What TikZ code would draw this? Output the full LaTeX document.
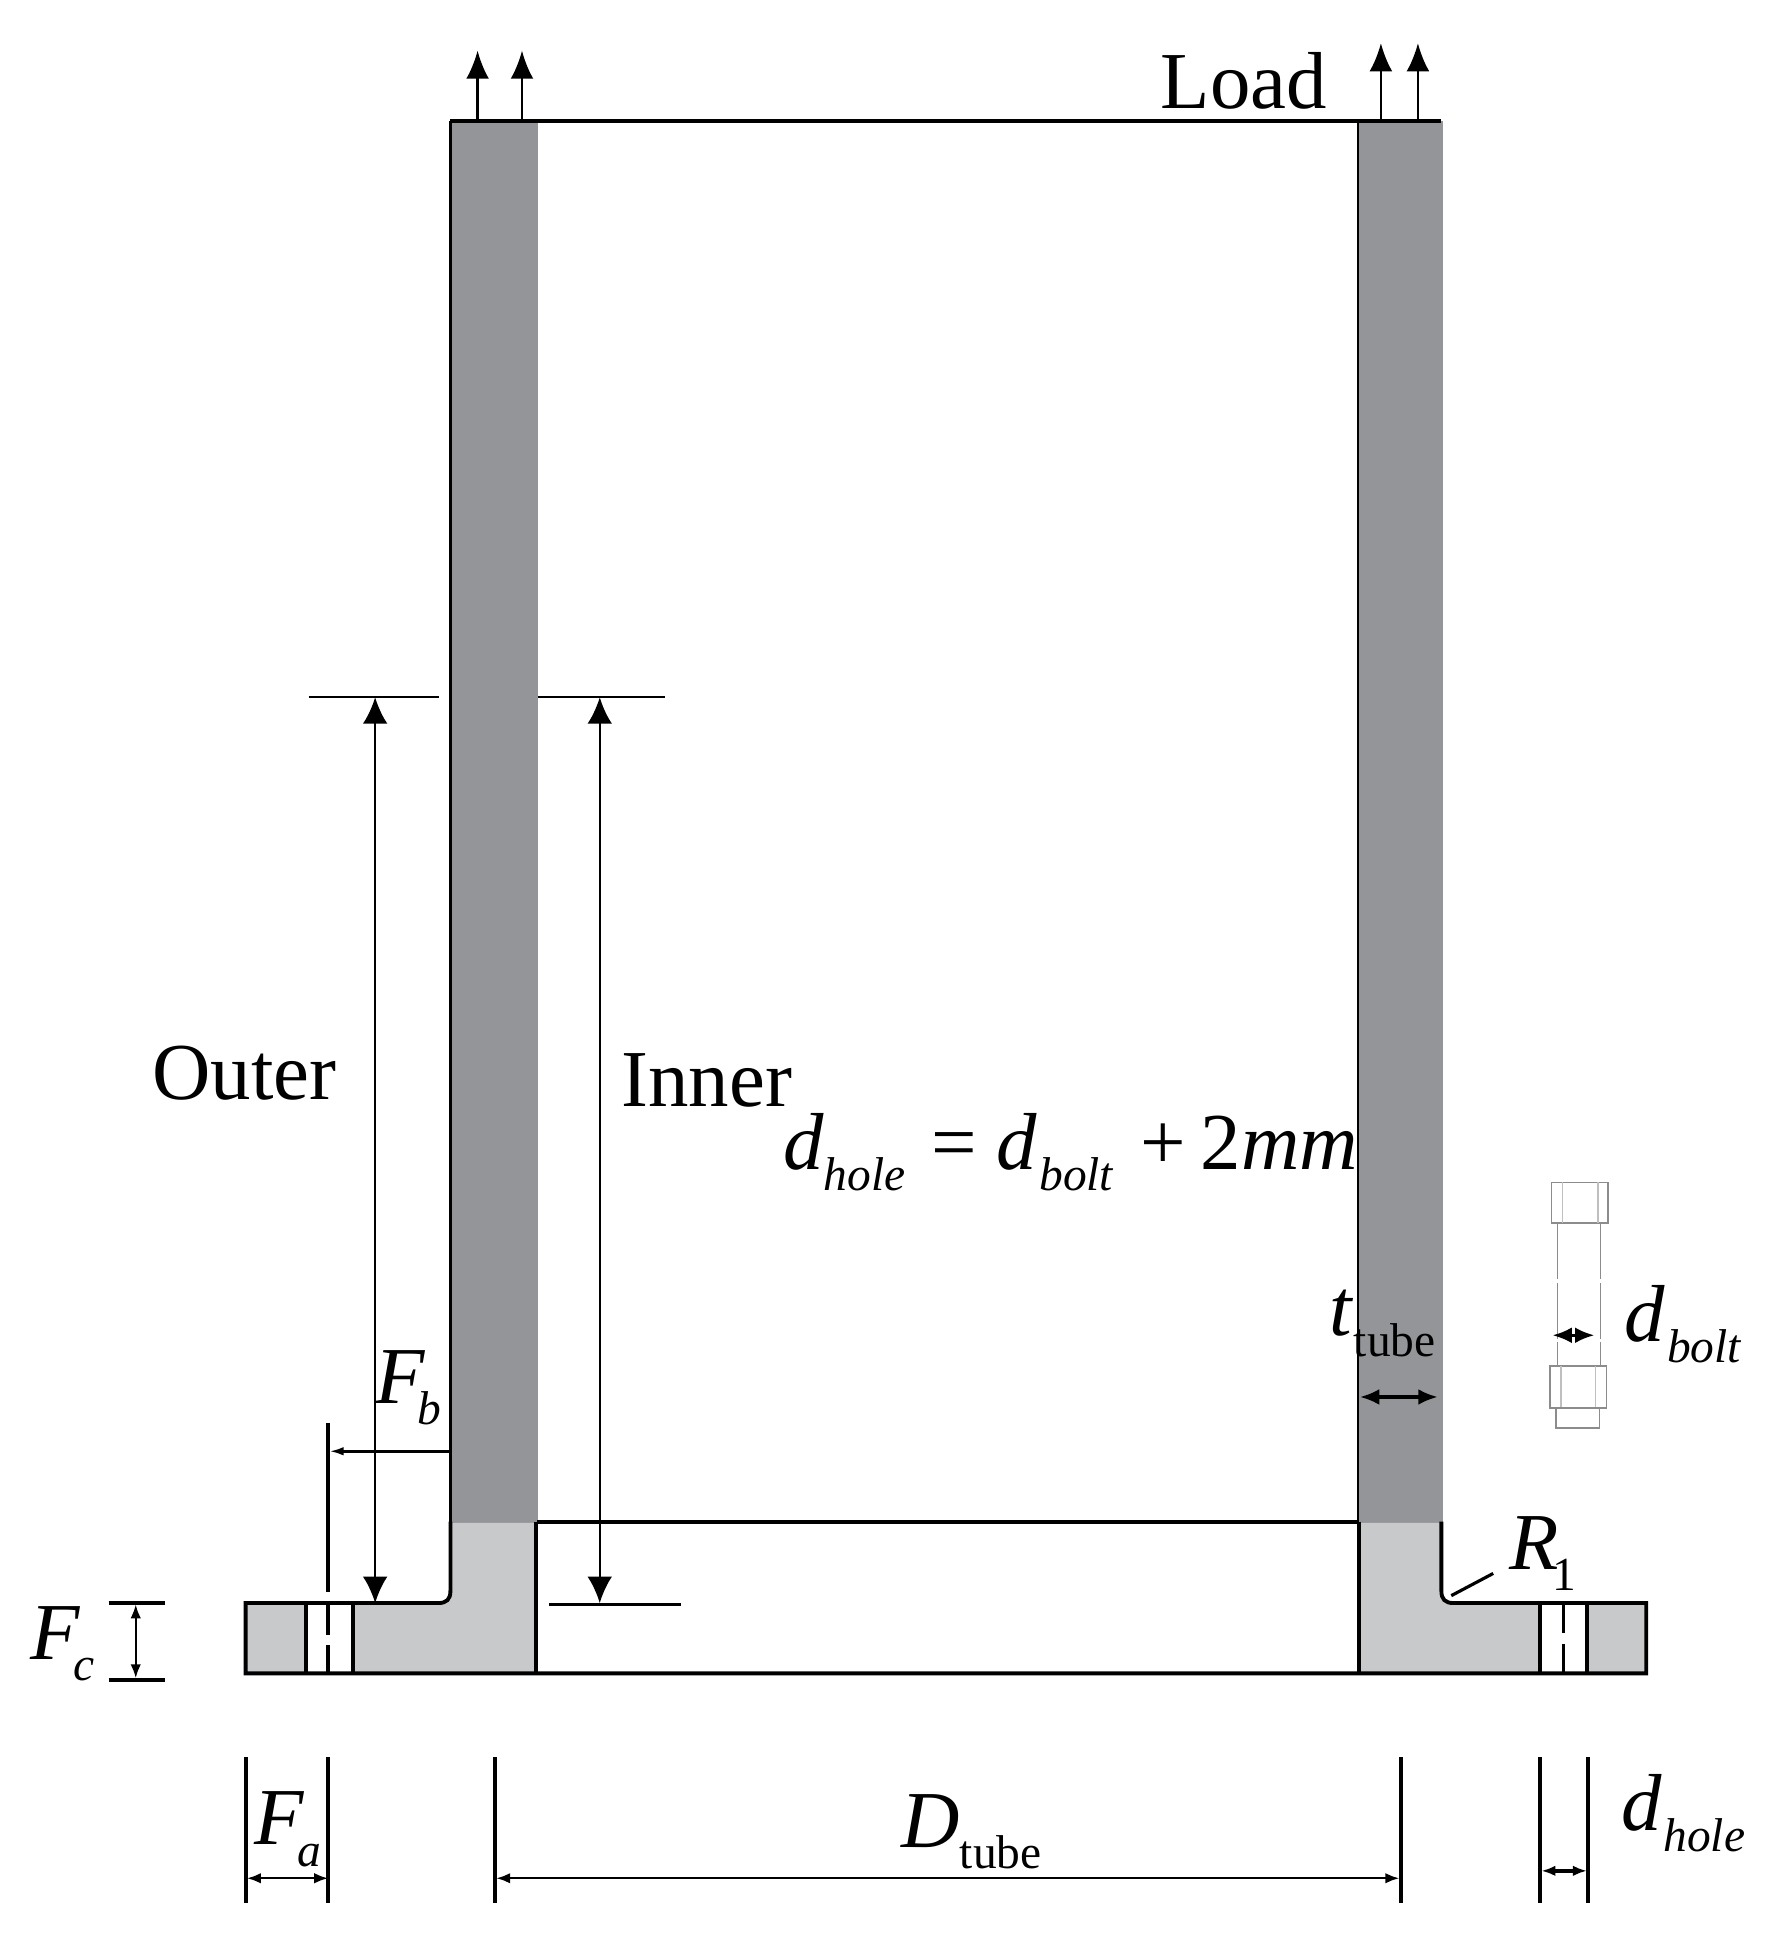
\documentclass[tikz,border=0pt]{standalone}
\usepackage{fontspec}
\setmainfont{Liberation Serif}
\usepackage{tikz}
\usetikzlibrary{arrows.meta}
\definecolor{tubegray}{HTML}{939598}
\definecolor{flangegray}{HTML}{C8C9CB}
\newcommand{\tikzItalicSub}[3][0pt]{\textit{#2}\kern#1\raisebox{-6pt}{\fontsize{13.5}{13.5}\selectfont\textit{#3}}}
\newcommand{\tikzUprightSub}[3][0pt]{\textit{#2}\kern#1\raisebox{-6pt}{\fontsize{13.5}{13.5}\selectfont #3}}
\tikzset{
  label text/.style = {anchor=base west, inner sep=0pt, font=\fontsize{23}{23}\selectfont},
  edge line/.style = {line width=1.1pt, black},
  ext line/.style = {line width=1.1pt, black},
  thin line/.style = {line width=0.7pt, black},
  bolt line/.style = {line width=0.4pt, black!45},
  big tip/.style = {{Latex[length=7.5pt,width=7pt]}-{Latex[length=7.5pt,width=7pt]}, thin line},
  up tip/.style = {-{Latex[length=8pt,width=6.5pt]}, thin line},
  small tip/.style = {{Latex[length=4pt,width=3pt]}-{Latex[length=4pt,width=3pt]}, thin line},
  bold tip/.style = {{Latex[length=5.5pt,width=4.5pt]}-{Latex[length=5.5pt,width=4.5pt]}, line width=0.9pt}
}
\begin{document}
\begin{tikzpicture}[x=0.012344cm,y=-0.012344cm]
  \useasboundingbox (0,0) rectangle (1438,1568);
  % fills
  \fill[tubegray] (365,98) rectangle (436,1234);
  \fill[tubegray] (1101,98) rectangle (1169,1234);
  \fill[flangegray] (365,1234) -- (365,1289) .. controls (365,1296) and (362,1299) .. (355,1299)
    -- (199,1299) -- (199,1356) -- (434,1356) -- (434,1234) -- cycle;
  \fill[flangegray] (1101,1234) -- (1101,1356) -- (1334,1356) -- (1334,1299) -- (1178,1299)
    .. controls (1171,1299) and (1168,1296) .. (1168,1289) -- (1168,1234) -- cycle;
  \fill[white] (248,1299) rectangle (286,1356);
  \fill[white] (1248,1299) rectangle (1286,1356);
  % outline
  \draw[thin line] (365,98) -- (365,1233);
  \draw[thin line] (1100.5,98) -- (1100.5,1233);
  \draw[edge line] (365,98) -- (1168,98);
  \draw[edge line] (435,1233) -- (1101,1233);
  \draw[edge line] (365,1233) -- (365,1289) .. controls (365,1296) and (362,1299) .. (355,1299)
    -- (199,1299) -- (199,1356) -- (1334,1356) -- (1334,1299) -- (1178,1299)
    .. controls (1171,1299) and (1168,1296) .. (1168,1289) -- (1168,1233);
  \draw[edge line] (434,1233) -- (434,1356);
  \draw[edge line] (1101,1233) -- (1101,1356);
  % holes
  \draw[edge line] (248,1299) -- (248,1356);
  \draw[edge line] (286,1299) -- (286,1356);
  \draw[edge line] (1248,1299) -- (1248,1356);
  \draw[edge line] (1286,1299) -- (1286,1356);
  \draw[edge line] (266,1299) -- (266,1325);
  \draw[edge line] (266,1333) -- (266,1356);
  \draw[edge line] (1267,1299) -- (1267,1323);
  \draw[edge line] (1267,1332) -- (1267,1356);
  % load
  \draw[up tip] (387,98) -- (387,41);
  \draw[up tip] (423,98) -- (423,41);
  \draw[up tip] (1119,98) -- (1119,35);
  \draw[up tip] (1149,98) -- (1149,35);
  \node[label text] (load) at (940,88) {Load};
  % outer and inner
  \draw[thin line] (250,565) -- (356,565);
  \draw[thin line] (436,565) -- (539,565);
  \draw[thin line] (445,1300) -- (552,1300);
  \draw[big tip] (304,565) -- (304,1299);
  \draw[big tip] (486,565) -- (486,1299);
  \node[label text] (outer) at (123,891) {Outer};
  \node[label text] (inner) at (503,897) {Inner};
  \node[label text] (holeeq) at (634,948) {\tikzItalicSub{d}{hole}\kern7.4pt=\kern5.6pt\tikzItalicSub[0.6pt]{d}{bolt}\kern7.5pt+\kern4.2pt2\textit{mm}};
  % F dimensions
  \draw[ext line] (266,1153) -- (266,1290);
  \draw[thin line, {Latex[length=4pt,width=2.4pt]}-] (267,1176) -- (365,1176);
  \node[label text] (fb) at (304,1137) {\tikzItalicSub[-2.5pt]{F}{b}};
  \draw[ext line] (88,1299) -- (134,1299);
  \draw[ext line] (88,1361) -- (134,1361);
  \draw[small tip] (110,1300) -- (110,1360);
  \node[label text] (fc) at (24,1345) {\tikzItalicSub[-2pt]{F}{c}};
  \draw[ext line] (199,1424) -- (199,1542);
  \draw[ext line] (266,1424) -- (266,1542);
  \draw[small tip] (200,1522) -- (266,1522);
  \node[label text] (fa) at (206,1495) {\tikzItalicSub[-2pt]{F}{a}};
  % tube diameter
  \draw[ext line] (401,1424) -- (401,1542);
  \draw[ext line] (1135,1424) -- (1135,1542);
  \draw[small tip] (402,1522) -- (1134,1522);
  \node[label text] (dtube) at (730,1497) {\tikzUprightSub{D}{tube}};
  % hole diameter
  \draw[ext line] (1248,1424) -- (1248,1542);
  \draw[ext line] (1287,1424) -- (1287,1542);
  \draw[{Latex[length=4pt,width=3pt]}-{Latex[length=4pt,width=3pt]}, ext line] (1249,1516) -- (1286,1516);
  \node[label text] (dhole) at (1313,1483) {\tikzItalicSub[0.5pt]{d}{hole}};
  % tube thickness
  \node[label text] (ttube) at (1077,1082) {\tikzUprightSub{t}{tube}};
  \draw[bold tip] (1102,1132) -- (1165,1132);
  % bolt
  \draw[bolt line] (1257,958) rectangle (1303,991);
  \draw[bolt line, black!25] (1266,958) -- (1266,991);
  \draw[bolt line, black!25] (1295,958) -- (1295,991);
  \draw[bolt line, dash pattern=on 16pt off 1pt] (1262,991) -- (1262,1107);
  \draw[bolt line, dash pattern=on 16pt off 1pt] (1297,991) -- (1297,1107);
  \draw[bolt line] (1256,1107) rectangle (1302,1141);
  \draw[bolt line, black!25] (1265,1107) -- (1265,1141);
  \draw[bolt line, black!25] (1293,1107) -- (1293,1141);
  \draw[bolt line] (1261,1141) rectangle (1296,1157);
  \draw[bold tip] (1258,1082) -- (1292,1082);
  \node[label text] (dbolt) at (1316,1087) {\tikzItalicSub[0.5pt]{d}{bolt}};
  % fillet radius
  \draw[line width=0.9pt] (1176,1293) -- (1210,1275);
  \node[label text] (rone) at (1223,1272) {\tikzUprightSub[-2pt]{R}{1}};
\end{tikzpicture}
\end{document}
